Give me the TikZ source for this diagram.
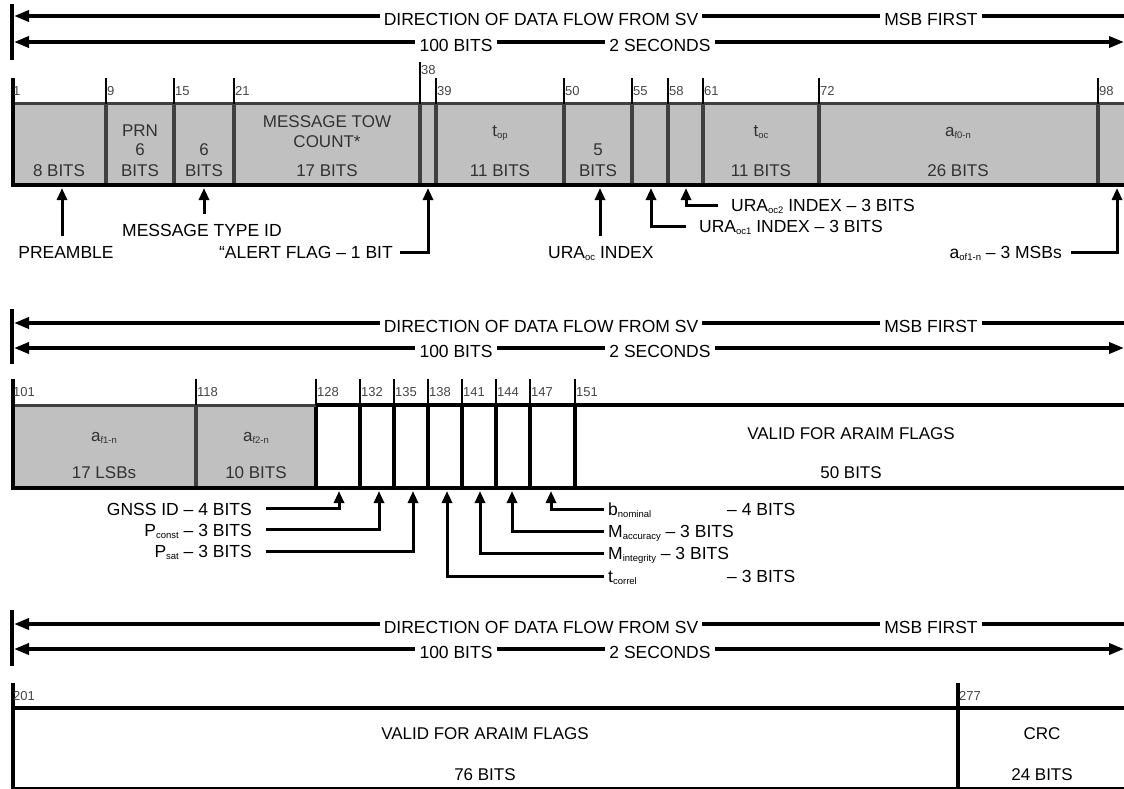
\documentclass[tikz,border=0pt]{standalone}
\usepackage{fontspec}
\setmainfont{Liberation Sans}
\usetikzlibrary{arrows.meta}
\definecolor{boxgray}{RGB}{192,192,192}
\definecolor{sepgray}{RGB}{64,64,64}
\definecolor{txtgray}{RGB}{50,50,50}
\definecolor{ticktxt}{RGB}{70,70,70}
\newcommand{\sbx}[1]{\raisebox{-0.3ex}{\fontsize{9.5}{10}\selectfont #1}}
\begin{document}
\begin{tikzpicture}[x=1pt,y=-1pt,
  hline/.style={line width=3.5pt},
  larr/.style={arrows={Triangle[length=15pt,width=11pt]-}},
  rarr/.style={arrows={-Triangle[length=15pt,width=11pt]}},
  barline/.style={line width=4pt},
  hdrtxt/.style={font=\fontsize{17.5}{20}\selectfont, inner xsep=4pt, inner ysep=0pt},
  tickline/.style={line width=2pt},
  ticklbl/.style={font=\fontsize{13}{15}\selectfont, text=ticktxt, anchor=west, inner sep=1pt},
  sepline/.style={line width=4pt, sepgray},
  blkline/.style={line width=4pt, black},
  fldtxt/.style={font=\fontsize{17}{20}\selectfont, text=txtgray, inner sep=0pt, anchor=base},
  wfldtxt/.style={font=\fontsize{17}{20}\selectfont, text=black, inner sep=0pt, anchor=base},
  lbl/.style={font=\fontsize{17.5}{20}\selectfont, inner sep=0pt},
  ptr/.style={line width=3pt, arrows={-Triangle[length=12pt,width=10pt]}}
]
\useasboundingbox (0,0) rectangle (1124,789);
\fill[white] (0,0) rectangle (1124,789);

% ---------- headers ----------
\foreach \s/\ya/\yb/\ta/\tb in {1/16/42/4/60, 2/323/348/309/364, 3/624/649/610/666} {
  \coordinate (barT\s) at (12,\ta);
  \coordinate (barB\s) at (12,\tb);
  \draw[barline] (barT\s) -- (barB\s);
  \node[hdrtxt] (dir\s) at (541,\ya+3) {DIRECTION OF DATA FLOW FROM SV};
  \node[hdrtxt] (msb\s) at (931,\ya+3) {MSB FIRST};
  \node[hdrtxt] (hb\s) at (456,\yb+3) {100 BITS};
  \node[hdrtxt] (sec\s) at (660,\yb+3) {2 SECONDS};
  \coordinate (la\s) at (14,\ya);
  \coordinate (lb\s) at (14,\yb);
  \coordinate (ra\s) at (1124,\ya);
  \coordinate (rb\s) at (1124,\yb);
  \draw[hline,larr] (la\s) -- (la\s -| dir\s.west);
  \draw[hline] (la\s -| dir\s.east) -- (la\s -| msb\s.west);
  \draw[hline] (la\s -| msb\s.east) -- (ra\s);
  \draw[hline,larr] (lb\s) -- (lb\s -| hb\s.west);
  \draw[hline] (lb\s -| hb\s.east) -- (lb\s -| sec\s.west);
  \draw[hline,rarr] (lb\s -| sec\s.east) -- (rb\s);
}

% ---------- row 1 ----------
\fill[boxgray] (12,104) rectangle (1124,185);
\foreach \x in {106,174,234,420,436,564,632,668,703,819,1098}
  \draw[sepline] (\x,104) -- (\x,185);
\draw[line width=3pt, sepgray] (12,104) -- (1124,104);
\draw[blkline] (11,185) -- (1124,185);
\draw[blkline] (13,78) -- (13,187);
\foreach \x/\n in {12/1,106/9,174/15,234/21,436/39,564/50,632/55,668/58,703/61,819/72,1098/98} {
  \draw[tickline] (\x,78) -- (\x,104);
  \node[ticklbl] (tka\n) at (\x,91) {\n};
}
\draw[tickline] (420,62) -- (420,104);
\node[ticklbl] (tka38) at (420,70) {38};

\node[fldtxt] (f1a) at (59,176) {8 BITS};
\node[fldtxt] (f2a) at (140,136) {PRN};
\node[fldtxt] (f2b) at (140,156) {6};
\node[fldtxt] (f2c) at (140,176) {BITS};
\node[fldtxt] (f3b) at (204,156) {6};
\node[fldtxt] (f3c) at (204,176) {BITS};
\node[fldtxt] (f4a) at (327,128) {MESSAGE TOW};
\node[fldtxt] (f4b) at (327,147) {COUNT*};
\node[fldtxt] (f4c) at (327,176) {17 BITS};
\node[fldtxt] (f6a) at (500,136) {t\sbx{op}};
\node[fldtxt] (f6b) at (500,176) {11 BITS};
\node[fldtxt] (f7a) at (598,156) {5};
\node[fldtxt] (f7b) at (598,176) {BITS};
\node[fldtxt] (f10a) at (761,136) {t\sbx{oc}};
\node[fldtxt] (f10b) at (761,176) {11 BITS};
\node[fldtxt] (f11a) at (958,136) {a\sbx{f0-n}};
\node[fldtxt] (f11b) at (958,176) {26 BITS};

% labels row 1
\node[lbl, anchor=base] (pre) at (66,258) {PREAMBLE};
\node[lbl, anchor=base west] (mti) at (122,236) {MESSAGE TYPE ID};
\node[lbl, anchor=base east] (alert) at (393,258) {“ALERT FLAG – 1 BIT};
\node[lbl, anchor=base west] (uraoc) at (548,258) {URA\sbx{oc} INDEX};
\node[lbl, anchor=base west] (uraoca) at (699,232) {URA\sbx{oc1} INDEX – 3 BITS};
\node[lbl, anchor=base west] (uraocb) at (731,211) {URA\sbx{oc2} INDEX – 3 BITS};
\node[lbl, anchor=base east] (aof) at (1062,258) {a\sbx{of1-n} – 3 MSBs};

\coordinate (tpre) at (62,188);   \coordinate (spre) at (62,236);
\coordinate (tmti) at (204,188);  \coordinate (smti) at (204,214);
\coordinate (talert) at (428,188);\coordinate (salert) at (400,252);
\coordinate (turaoc) at (600,188);\coordinate (suraoc) at (600,236);
\coordinate (turaoca) at (651,188);\coordinate (suraoca) at (686,226);
\coordinate (turaocb) at (686,188);\coordinate (suraocb) at (718,205);
\coordinate (taof) at (1117,188); \coordinate (saof) at (1071,252);
\draw[ptr] (spre) -- (tpre);
\draw[ptr] (smti) -- (tmti);
\draw[ptr] (salert) -| (talert);
\draw[ptr] (suraoc) -- (turaoc);
\draw[ptr] (suraoca) -| (turaoca);
\draw[ptr] (suraocb) -| (turaocb);
\draw[ptr] (saof) -| (taof);

% ---------- row 2 ----------
\fill[boxgray] (12,405) rectangle (316,488);
\draw[sepline] (196,405) -- (196,488);
\foreach \x in {316,360,394,428,462,496,530,575}
  \draw[blkline] (\x,405) -- (\x,488);
\draw[line width=3pt, sepgray] (12,405) -- (316,405);
\draw[blkline] (316,405) -- (1124,405);
\draw[blkline] (11,488) -- (1124,488);
\draw[blkline] (13,379) -- (13,490);
\foreach \x/\n in {12/101,196/118,316/128,360/132,394/135,428/138,462/141,496/144,530/147,575/151} {
  \draw[tickline] (\x,379) -- (\x,405);
  \node[ticklbl] (tkb\n) at (\x,392) {\n};
}
\node[fldtxt] (g1a) at (104,441) {a\sbx{f1-n}};
\node[fldtxt] (g1b) at (104,478) {17 LSBs};
\node[fldtxt] (g2a) at (256,441) {a\sbx{f2-n}};
\node[fldtxt] (g2b) at (256,478) {10 BITS};
\node[wfldtxt] (g3a) at (851,439) {VALID FOR ARAIM FLAGS};
\node[wfldtxt] (g3b) at (851,478) {50 BITS};

\node[lbl, anchor=base east] (gnss) at (252,515) {GNSS ID – 4 BITS};
\node[lbl, anchor=base east] (pconst) at (252,536) {P\sbx{const} – 3 BITS};
\node[lbl, anchor=base east] (psat) at (252,557) {P\sbx{sat} – 3 BITS};
\node[lbl, anchor=base west] (bnom) at (608,515) {\makebox[119pt][l]{b\sbx{nominal}}– 4 BITS};
\node[lbl, anchor=base west] (macc) at (608,537) {M\sbx{accuracy} – 3 BITS};
\node[lbl, anchor=base west] (minteg) at (608,559) {M\sbx{integrity} – 3 BITS};
\node[lbl, anchor=base west] (tcorr) at (608,582) {\makebox[119pt][l]{t\sbx{correl}}– 3 BITS};

\coordinate (tgnss) at (339,491);  \coordinate (sgnss) at (266,508);
\coordinate (tpconst) at (379,491);\coordinate (spconst) at (266,529);
\coordinate (tpsat) at (413,491);  \coordinate (spsat) at (266,551);
\coordinate (ttcorr) at (447,491); \coordinate (stcorr) at (604,576);
\coordinate (tminteg) at (480,491);\coordinate (sminteg) at (604,553);
\coordinate (tmacc) at (512,491);  \coordinate (smacc) at (604,531);
\coordinate (tbnom) at (551,491);  \coordinate (sbnom) at (604,509);
\draw[ptr] (sgnss) -| (tgnss);
\draw[ptr] (spconst) -| (tpconst);
\draw[ptr] (spsat) -| (tpsat);
\draw[ptr] (stcorr) -| (ttcorr);
\draw[ptr] (sminteg) -| (tminteg);
\draw[ptr] (smacc) -| (tmacc);
\draw[ptr] (sbnom) -| (tbnom);

% ---------- row 3 ----------
\draw[blkline] (12,708) -- (1124,708);
\draw[blkline] (958,683) -- (958,789);
\draw[blkline] (13,683) -- (13,789);
\draw[line width=2pt] (12,788) -- (1124,788);
\draw[tickline] (12,683) -- (12,708);
\node[ticklbl] (tkc201) at (12,696) {201};
\node[ticklbl] (tkc277) at (958,696) {277};
\node[wfldtxt] (h1a) at (485,739) {VALID FOR ARAIM FLAGS};
\node[wfldtxt] (h1b) at (485,780) {76 BITS};
\node[wfldtxt] (h2a) at (1042,739) {CRC};
\node[wfldtxt] (h2b) at (1042,780) {24 BITS};
\end{tikzpicture}
\end{document}
